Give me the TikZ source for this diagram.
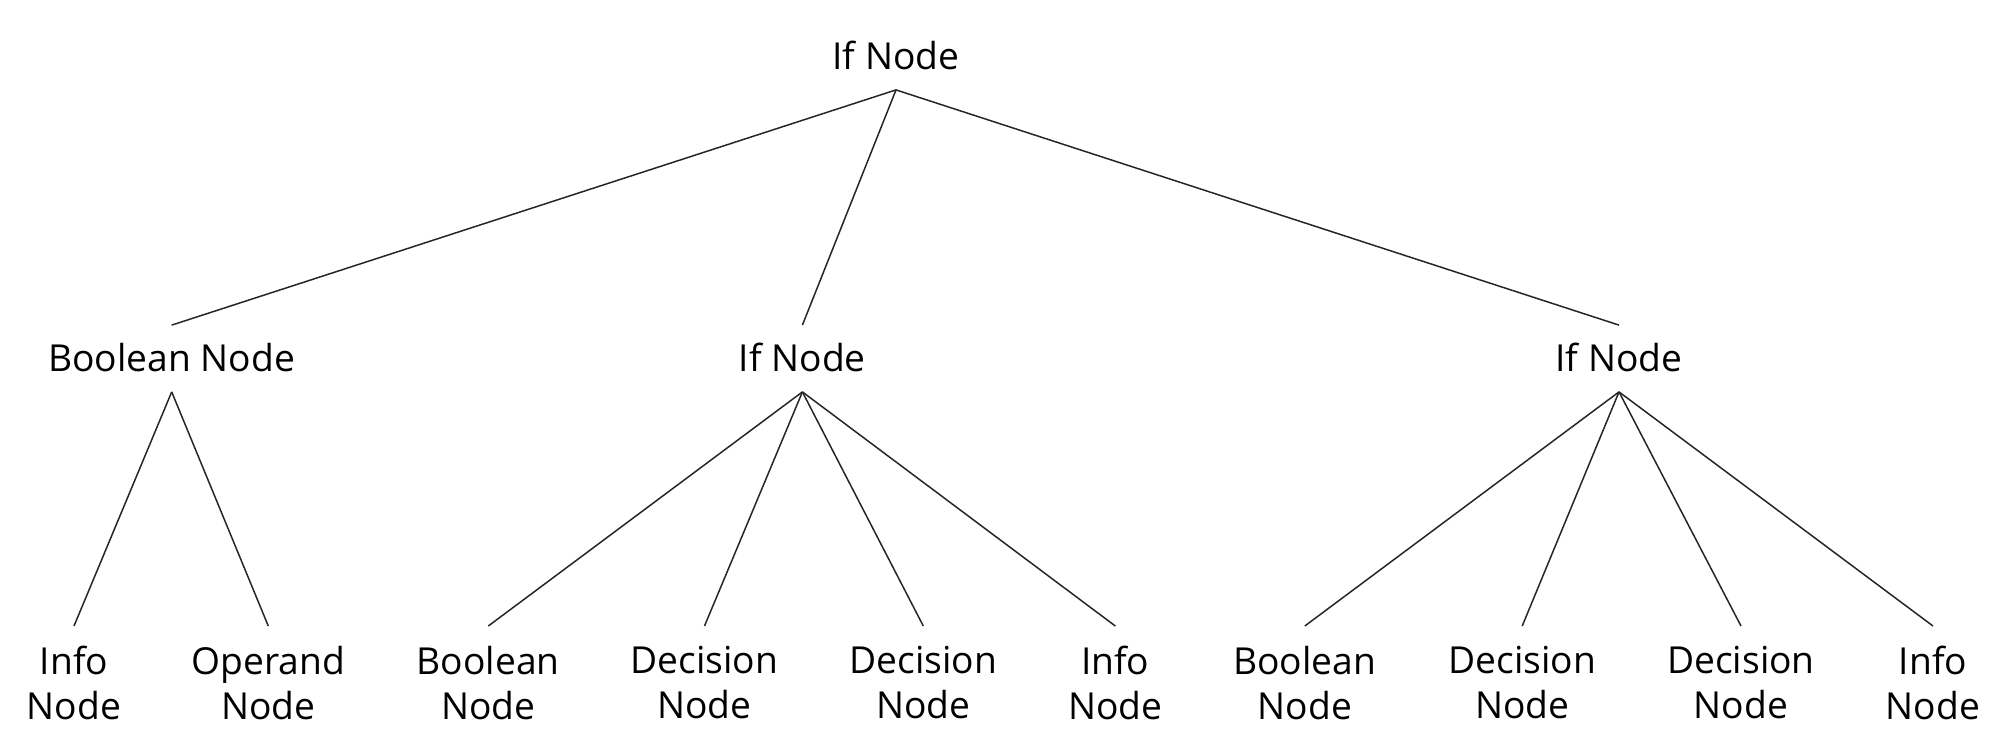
\documentclass[tikz,border=0pt]{standalone}
\usepackage{fontspec}
\setmainfont{Open Sans}
\usepackage{tikz}
\usetikzlibrary{positioning}

\begin{document}
\begin{tikzpicture}[x=0.5pt, y=-0.5pt,
        treenode/.style={font=\fontsize{18.6}{22.5}\selectfont, inner xsep=2pt, inner ysep=10pt, text height=13pt, text depth=0pt, anchor=base},
        leafnode/.style={font=\fontsize{18.6}{22.5}\selectfont, inner xsep=2pt, inner ysep=10pt, align=center, anchor=north},
        branch/.style={draw=black!85, line width=0.75pt}]
        \useasboundingbox (0,0) rectangle (1994,746);

        % root and middle row
        \node[treenode] (root) at (896,69.5) {If Node};
        \node[treenode] (boolA) at (171.7,371.5) {Boolean Node};
        \node[treenode] (ifA) at (802.4,371.5) {If Node};
        \node[treenode] (ifB) at (1619,371.5) {If Node};

        % leaves
        \node[leafnode] (infoA) at (74,626) {Info\\Node};
        \node[leafnode] (operA) at (268.3,626) {Operand\\Node};
        \node[leafnode] (boolB) at (488.3,626) {Boolean\\Node};
        \node[leafnode] (decA) at (704.5,626) {Decision\\Node};
        \node[leafnode] (decB) at (923.3,626) {Decision\\Node};
        \node[leafnode] (infoB) at (1115.3,626) {Info\\Node};
        \node[leafnode] (boolC) at (1304.8,626) {Boolean\\Node};
        \node[leafnode] (decC) at (1522.2,626) {Decision\\Node};
        \node[leafnode] (decD) at (1741,626) {Decision\\Node};
        \node[leafnode] (infoC) at (1933,626) {Info\\Node};

        % branches
        \draw[branch] (root.south) -- (boolA.north);
        \draw[branch] (root.south) -- (ifA.north);
        \draw[branch] (root.south) -- (ifB.north);
        \draw[branch] (boolA.south) -- (infoA.north);
        \draw[branch] (boolA.south) -- (operA.north);
        \draw[branch] (ifA.south) -- (boolB.north);
        \draw[branch] (ifA.south) -- (decA.north);
        \draw[branch] (ifA.south) -- (decB.north);
        \draw[branch] (ifA.south) -- (infoB.north);
        \draw[branch] (ifB.south) -- (boolC.north);
        \draw[branch] (ifB.south) -- (decC.north);
        \draw[branch] (ifB.south) -- (decD.north);
        \draw[branch] (ifB.south) -- (infoC.north);
    \end{tikzpicture}
\end{document}
